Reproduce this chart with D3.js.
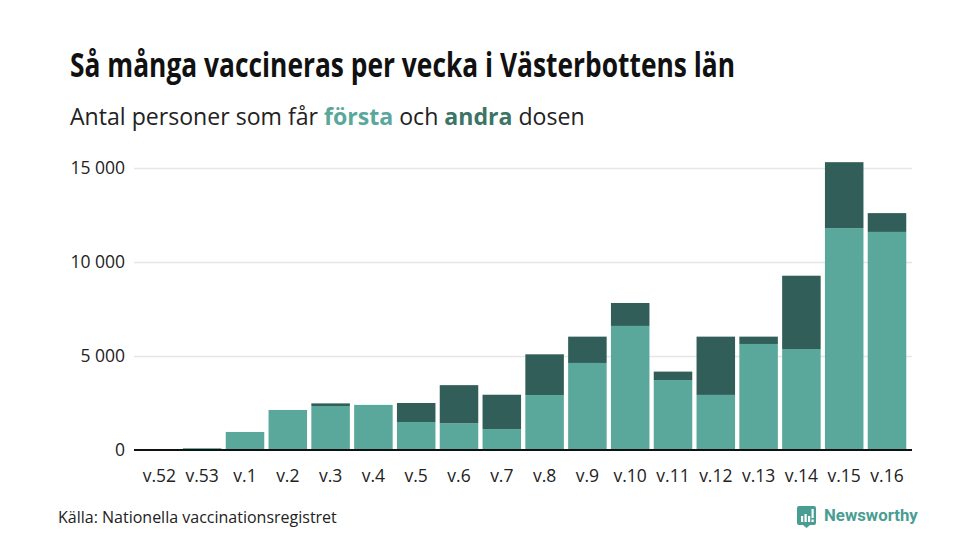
<!DOCTYPE html>
<html>
<head>
<meta charset="utf-8">
<script src="https://d3js.org/d3.v7.min.js"></script>
<style>
  html, body { margin: 0; padding: 0; background: #fff; }
  text { font-family: "Open Sans", sans-serif; }
</style>
</head>
<body>
<div id="chart"></div>
<script>
// data
let weeks = ["v.52","v.53","v.1","v.2","v.3","v.4","v.5","v.6","v.7","v.8","v.9","v.10","v.11","v.12","v.13","v.14","v.15","v.16"]
let forsta = [10,100,960,2130,2340,2400,1490,1420,1110,2920,4630,6600,3720,2930,5640,5370,11800,11600]
let andra = [0,0,0,0,140,0,1010,2030,1830,2170,1400,1220,450,3100,390,3900,3510,1000]
let yTicks = [0,5000,10000,15000]

let colFirst = "#5aa89b"
let colSecond = "#325e59"

let svg = d3.select("#chart").append("svg")
  .attr("width", 980)
  .attr("height", 551)
  .style("display", "block")

let x = d3.scaleBand().domain(weeks).range([138,908.4]).paddingInner(0.1).paddingOuter(0.05)
let y = d3.scaleLinear().domain([0,15000]).range([450,168])

// title + subtitle
let title = svg.append("text")
  .attr("x", 70).attr("y", 77)
  .attr("font-size", 33.5).attr("font-weight", 700)
  .attr("fill", "#111")
  .attr("textLength", 665)
  .attr("lengthAdjust", "spacingAndGlyphs")
  .text("Så många vaccineras per vecka i Västerbottens län")

let sub = svg.append("text").attr("x", 70).attr("y", 125)
  .attr("font-size", 23.1).attr("fill", "#222")
sub.append("tspan").text("Antal personer som får ")
sub.append("tspan").attr("font-weight", 700).attr("fill", colFirst).text("första")
sub.append("tspan").text(" och ")
sub.append("tspan").attr("font-weight", 700).attr("fill", "#3c7468").text("andra")
sub.append("tspan").text(" dosen")

// y axis with grid lines
let yAxis = d3.axisLeft(y).tickValues(yTicks)
  .tickFormat(d => d3.format(",")(d).replace(",", " "))
  .tickSize(0).tickPadding(9)

let yG = svg.append("g").attr("transform", "translate(134,0)").call(yAxis)
yG.select(".domain").remove()
yG.selectAll("text").attr("font-size", 17.5).attr("fill", "#222").style("font-family", '"Open Sans", sans-serif')
yG.selectAll(".tick").filter(d => d > 0).append("line")
  .attr("x1", 0).attr("x2", 778).attr("stroke", "#e6e6e6").attr("stroke-width", 1.5)

// stacked bars
let stack = d3.stack().keys(["first","second"])
let rows = weeks.map((w,i) => ({week: w, first: forsta[i], second: andra[i]}))
let layers = stack(rows)

svg.selectAll("g.layer")
  .data(layers)
  .enter().append("g")
  .attr("class", "layer")
  .attr("fill", (d,i) => i == 0 ? colFirst : colSecond)
  .selectAll("rect")
  .data(d => d)
  .enter().append("rect")
  .attr("x", d => x(d.data.week))
  .attr("width", x.bandwidth())
  .attr("y", d => y(d[1]))
  .attr("height", d => y(d[0]) - y(d[1]))

// baseline
svg.append("line")
  .attr("x1", 134).attr("x2", 912)
  .attr("y1", y(0)).attr("y2", y(0))
  .attr("stroke", "#111").attr("stroke-width", 2)

// x axis
let xAxis = d3.axisBottom(x).tickSize(0).tickPadding(20)
let xG = svg.append("g").attr("transform", "translate(0,450)").call(xAxis)
xG.select(".domain").remove()
xG.selectAll("text").attr("font-size", 17.5).attr("fill", "#222").style("font-family", '"Open Sans", sans-serif')

// source
svg.append("text").attr("x", 58).attr("y", 523)
  .attr("font-size", 16).attr("fill", "#222")
  .text("Källa: Nationella vaccinationsregistret")

// logo
let logo = svg.append("g").attr("transform", "translate(797,506)")
logo.append("path")
  .attr("d", "M2,0H17a2,2 0 0 1 2,2V17a2,2 0 0 1 -2,2H13L9.5,22L6,19H2a2,2 0 0 1 -2,-2V2a2,2 0 0 1 2,-2Z")
  .attr("fill", "#4a9d92")
logo.selectAll("rect")
  .data([[4,10,2.2,6],[7.5,8,2.2,8],[11,10,2.2,6],[14.5,3,2.2,9],[14.5,13.5,2.2,2.5]])
  .enter().append("rect")
  .attr("x", d => d[0]).attr("y", d => d[1]).attr("width", d => d[2]).attr("height", d => d[3])
  .attr("fill", "#fff")
svg.append("text").attr("x", 824).attr("y", 521)
  .attr("font-size", 16.8).attr("font-weight", 700).attr("fill", "#4a9d92")
  .style("font-family", "Roboto, sans-serif")
  .text("Newsworthy")
</script>
</body>
</html>
